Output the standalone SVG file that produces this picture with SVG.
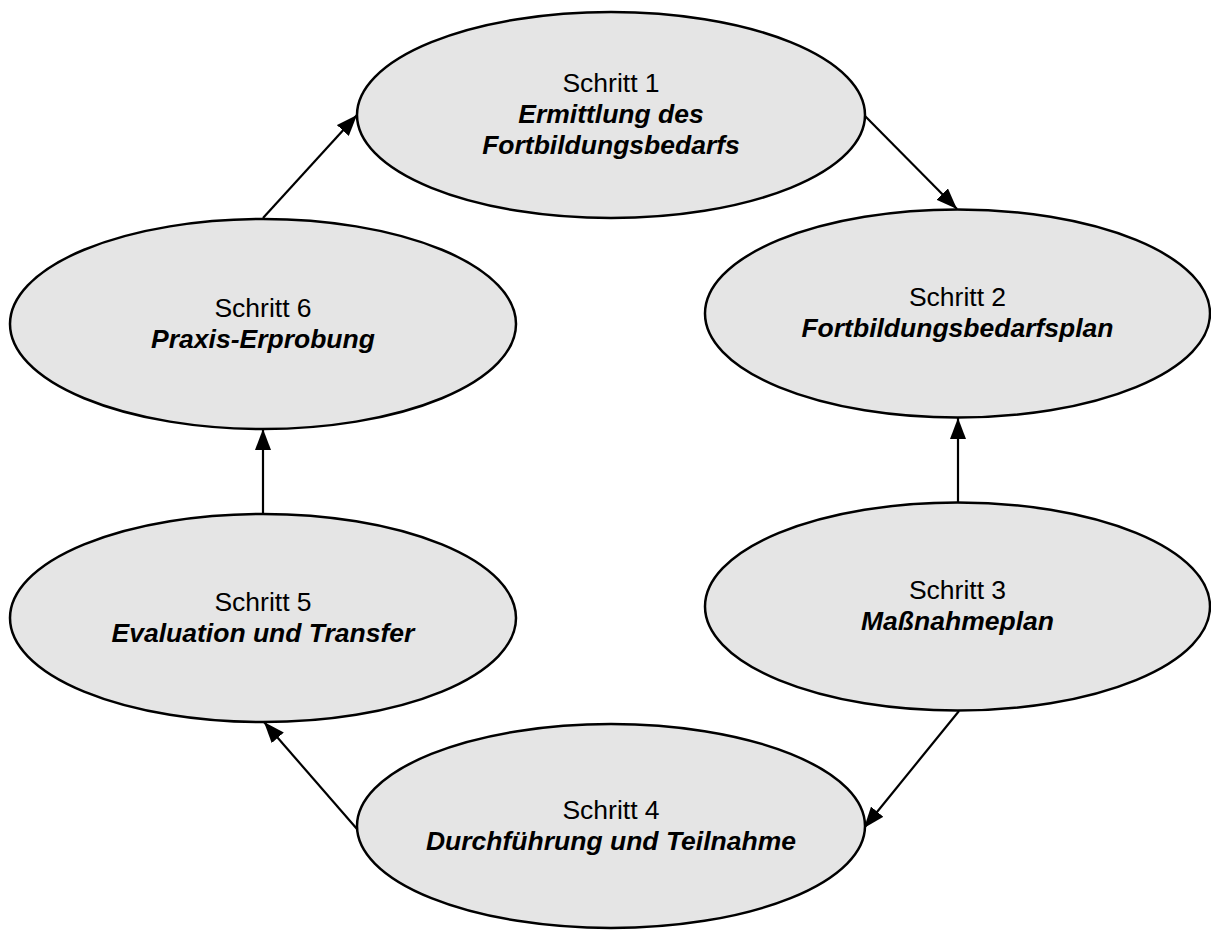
<svg xmlns="http://www.w3.org/2000/svg" width="1211" height="930" viewBox="0 0 1211 930">
<style>
.node ellipse{fill:#e5e5e5;stroke:#000;stroke-width:2.5}
.node text{font-family:"Liberation Sans",Arial,sans-serif;font-size:26.5px;text-anchor:middle;fill:#000}
.node .t{font-weight:bold;font-style:italic}
.conn line{stroke:#000;stroke-width:2.2;marker-end:url(#ah)}
</style>
<defs>
<marker id="ah" markerUnits="userSpaceOnUse" markerWidth="22" markerHeight="16" refX="21" refY="8" orient="auto">
<path d="M0,0 L21,8 L0,16 z" fill="#000"/>
</marker>
</defs>
<rect width="1211" height="930" fill="#fff"/>
<g id="connectors" class="conn">
<line x1="864" y1="115" x2="957" y2="209"/>
<line x1="958" y1="503" x2="958" y2="418"/>
<line x1="959" y1="711" x2="864" y2="828"/>
<line x1="357" y1="829" x2="264" y2="722"/>
<line x1="263" y1="514" x2="263" y2="429"/>
<line x1="263" y1="218" x2="357" y2="115"/>
</g>
<g id="node1" class="node">
<ellipse cx="611" cy="115" rx="254" ry="103"/>
<text x="611" y="92">Schritt 1</text>
<text class="t" x="611" y="123">Ermittlung des</text>
<text class="t" x="611" y="154">Fortbildungsbedarfs</text>
</g>
<g id="node2" class="node">
<ellipse cx="957.5" cy="313.5" rx="252.5" ry="104"/>
<text x="957.5" y="306">Schritt 2</text>
<text class="t" x="957.5" y="337">Fortbildungsbedarfsplan</text>
</g>
<g id="node3" class="node">
<ellipse cx="957.5" cy="606.5" rx="252.5" ry="104"/>
<text x="957.5" y="599">Schritt 3</text>
<text class="t" x="957.5" y="630">Maßnahmeplan</text>
</g>
<g id="node4" class="node">
<ellipse cx="611" cy="826" rx="254" ry="102"/>
<text x="611" y="819">Schritt 4</text>
<text class="t" x="611" y="850">Durchführung und Teilnahme</text>
</g>
<g id="node5" class="node">
<ellipse cx="263" cy="618" rx="253" ry="104"/>
<text x="263" y="611">Schritt 5</text>
<text class="t" x="263" y="642">Evaluation und Transfer</text>
</g>
<g id="node6" class="node">
<ellipse cx="263" cy="324" rx="253" ry="105"/>
<text x="263" y="317">Schritt 6</text>
<text class="t" x="263" y="348">Praxis-Erprobung</text>
</g>
</svg>
